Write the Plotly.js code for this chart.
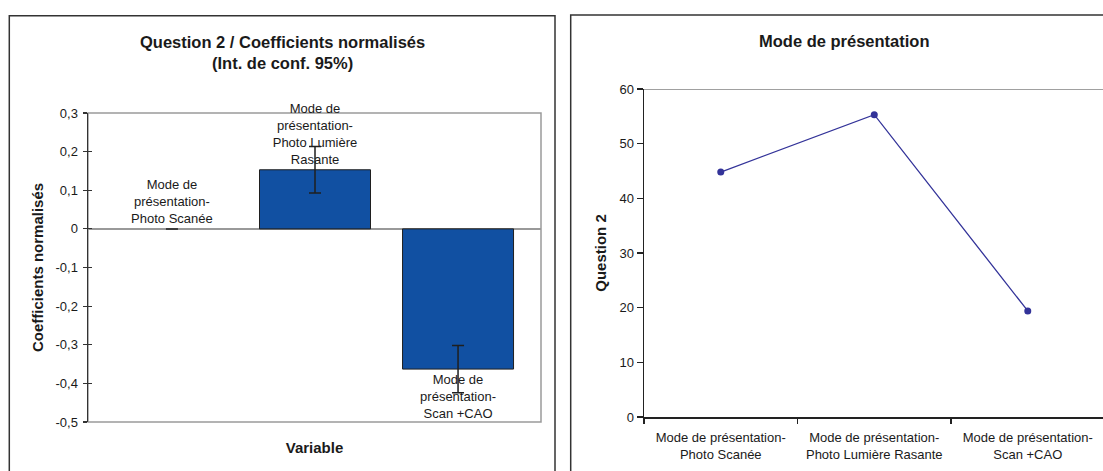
<!DOCTYPE html>
<html>
<head>
<meta charset="utf-8">
<script src="https://cdn.plot.ly/plotly-3.0.1.min.js"></script>
<style>
  html, body { margin: 0; padding: 0; background: #fff; }
  #chart { width: 1103px; height: 471px; }
</style>
</head>
<body>
<div id="chart"></div>
<script>
// ---- Data ----
const categories = [
  "Mode de présentation-Photo Scanée",
  "Mode de présentation-Photo Lumière Rasante",
  "Mode de présentation-Scan +CAO"
];
const barLabels = [
  "Mode de<br>présentation-<br>Photo Scanée",
  "Mode de<br>présentation-<br>Photo Lumière<br>Rasante",
  "Mode de<br>présentation-<br>Scan +CAO"
];
const lineTickLabels = [
  "Mode de présentation-<br>Photo Scanée",
  "Mode de présentation-<br>Photo Lumière Rasante",
  "Mode de présentation-<br>Scan +CAO"
];
const coefValues = [0, 0.153, -0.363];
const coefErrors = [0, 0.06, 0.061];
const question2Values = [44.8, 55.3, 19.4];
const coefTickVals = [-0.5, -0.4, -0.3, -0.2, -0.1, 0, 0.1, 0.2, 0.3];
const coefTickText = ["-0,5", "-0,4", "-0,3", "-0,2", "-0,1", "0", "0,1", "0,2", "0,3"];
const q2TickVals = [0, 10, 20, 30, 40, 50, 60];
const q2TickText = ["0", "10", "20", "30", "40", "50", "60"];

const leftTitle = "Question 2 / Coefficients normalisés<br>(Int. de conf. 95%)";
const rightTitle = "Mode de présentation";

// ---- Layout helpers ----
const W = 1103, H = 471;
const px = v => v / W;
const py = v => (H - v) / H;
const FONT = "Arial, 'Liberation Sans', sans-serif";
const INK = "#1a1a1a";

// no outline on zero-height bars (only the error-bar cap shows there)
const barOutline = coefValues.map(v => (v === 0 ? 0 : 1));

const barTrace = {
  type: "bar",
  x: categories,
  y: coefValues,
  xaxis: "x", yaxis: "y",
  width: 0.776,
  marker: { color: "#1150A2", line: { color: "#1f1f1f", width: barOutline } },
  error_y: { type: "data", array: coefErrors, visible: true, color: "#1f1f1f", thickness: 1.5, width: 6 },
  text: barLabels,
  textposition: "outside",
  constraintext: "none",
  cliponaxis: false,
  textfont: { family: FONT, size: 13, color: INK },
  hoverinfo: "skip",
  showlegend: false
};

const lineTrace = {
  type: "scatter",
  mode: "lines+markers",
  x: categories,
  y: question2Values,
  xaxis: "x2", yaxis: "y2",
  line: { color: "#333399", width: 1.3 },
  marker: { color: "#333399", size: 7 },
  cliponaxis: false,
  hoverinfo: "skip",
  showlegend: false
};

// invisible trace to host inside ticks of the left axis (crossing ticks)
const tickHost = {
  type: "scatter", mode: "none",
  x: [categories[0]], y: [0],
  xaxis: "x", yaxis: "y3",
  hoverinfo: "skip", showlegend: false
};

const layout = {
  width: W, height: H,
  margin: { l: 0, r: 0, t: 0, b: 0 },
  paper_bgcolor: "#fff",
  plot_bgcolor: "rgba(0,0,0,0)",
  font: { family: FONT, size: 12, color: INK },
  separators: ", ",
  xaxis: {
    domain: [px(88), px(541)],
    anchor: "y",
    type: "category",
    range: [-0.587, 2.58],
    showticklabels: false,
    ticks: "",
    showgrid: false,
    showline: false,
    zeroline: false,
    title: { text: "<b>Variable</b>", font: { family: FONT, size: 15, color: INK }, standoff: 20 }
  },
  yaxis: {
    domain: [py(422), py(113)],
    anchor: "x",
    range: [-0.5, 0.3],
    tickvals: coefTickVals,
    ticktext: coefTickText,
    ticks: "outside",
    ticklen: 4,
    tickwidth: 1.2,
    tickcolor: "#333",
    ticklabelstandoff: 2,
    tickfont: { family: FONT, size: 13, color: INK },
    showgrid: false,
    showline: true,
    linecolor: "#333",
    linewidth: 1.5,
    zeroline: true,
    zerolinecolor: "#999",
    zerolinewidth: 2,
    title: { text: "<b>Coefficients normalisés</b>", font: { family: FONT, size: 15, color: INK }, standoff: 8 }
  },
  yaxis3: {
    overlaying: "y",
    anchor: "x",
    range: [-0.5, 0.3],
    tickvals: coefTickVals,
    showticklabels: false,
    ticks: "inside",
    ticklen: 4,
    tickwidth: 1.2,
    tickcolor: "#333",
    showgrid: false,
    showline: false,
    zeroline: false
  },
  xaxis2: {
    domain: [px(644), 1],
    anchor: "y2",
    type: "category",
    range: [-0.5, 2.49],
    tickvals: categories,
    ticktext: lineTickLabels,
    tickson: "boundaries",
    ticks: "outside",
    ticklen: 5,
    tickwidth: 1.2,
    tickcolor: "#222",
    ticklabelstandoff: 8,
    tickfont: { family: FONT, size: 13, color: INK },
    showgrid: false,
    showline: true,
    linecolor: "#222",
    linewidth: 1.5,
    zeroline: false
  },
  yaxis2: {
    domain: [py(417), py(89)],
    anchor: "x2",
    range: [0, 60],
    tickvals: q2TickVals,
    ticktext: q2TickText,
    ticks: "outside",
    ticklen: 6,
    tickwidth: 1.2,
    tickcolor: "#222",
    tickfont: { family: FONT, size: 13, color: INK },
    showgrid: false,
    showline: true,
    linecolor: "#222",
    linewidth: 1.5,
    zeroline: false,
    title: { text: "<b>Question 2</b>", font: { family: FONT, size: 15, color: INK }, standoff: 9 }
  },
  shapes: [
    // outer frames of the two charts
    { type: "rect", xref: "paper", yref: "paper", x0: px(9.3), x1: px(555), y0: -0.05, y1: py(15.7),
      line: { color: "#333", width: 1.5 }, layer: "below" },
    { type: "rect", xref: "paper", yref: "paper", x0: px(570.7), x1: 1.05, y0: -0.05, y1: py(15),
      line: { color: "#333", width: 1.5 }, layer: "below" },
    // grey plot-area box of left chart
    { type: "rect", xref: "x domain", yref: "y domain", x0: 0, x1: 1, y0: 0, y1: 1,
      line: { color: "#9a9a9a", width: 1.5 }, layer: "below" },
    // top line of right chart at 60
    { type: "line", xref: "x2 domain", yref: "y2", x0: 0, x1: 1, y0: 60, y1: 60,
      line: { color: "#808080", width: 1.5 }, layer: "below" }
  ],
  annotations: [
    { text: "<b>" + leftTitle + "</b>", xref: "paper", yref: "paper", x: px(282), y: py(53),
      xanchor: "center", yanchor: "middle", showarrow: false,
      font: { family: FONT, size: 16.5, color: INK } },
    { text: "<b>" + rightTitle + "</b>", xref: "paper", yref: "paper", x: px(844.5), y: py(41),
      xanchor: "center", yanchor: "middle", showarrow: false,
      font: { family: FONT, size: 16.5, color: INK } }
  ]
};

Plotly.newPlot("chart", [barTrace, tickHost, lineTrace], layout, { displayModeBar: false, staticPlot: true });
</script>
</body>
</html>
